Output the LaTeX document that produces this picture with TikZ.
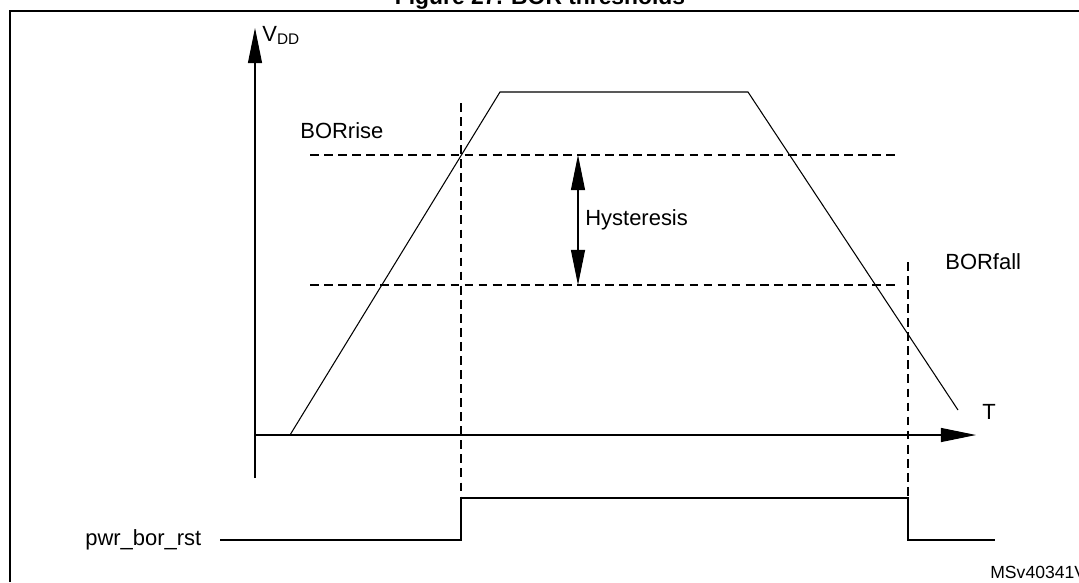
\documentclass[tikz,border=0pt]{standalone}
\usepackage{fontspec}
\setmainfont{Liberation Sans}
\usetikzlibrary{arrows.meta}
\tikzset{
  axis/.style={draw,semithick,-{Triangle[length=20pt,width=8pt]}},
  thr/.style={draw,semithick,dash pattern=on 5pt off 3pt},
  lbl/.style={font=\fontsize{12.5}{14}\selectfont,inner sep=0pt}
}
\begin{document}
\begin{tikzpicture}[x=0.02cm,y=-0.02cm]
\path[use as bounding box] (0,0) rectangle (1079,582);

% frame and title
\draw[thick] (10,582) -- (10,11) -- (1079,11);
\node[lbl,font=\bfseries\fontsize{13}{14}\selectfont] (title) at (540,-1) {Figure 27. BOR thresholds};

% axes
\coordinate (o) at (255,435);
\coordinate (ytop) at (255,28);
\coordinate (xend) at (976,435);
\coordinate (ybot) at (255,478);
\path[axis] (ybot) -- (ytop);
\path[axis] (o) -- (xend);
\node[lbl,anchor=north west] (vdd) at (262,26) {V\textsubscript{DD}};
\node[lbl,anchor=south west] (t) at (982,420) {T};

% supply curve
\draw[semithick] (290,435) -- (500,92) -- (748,92) -- (958,410);

% thresholds
\path[thr] (310,155) -- (900,155);
\path[thr] (310,285) -- (900,285);
\node[lbl,anchor=west] (rise) at (300,131) {BORrise};
\node[lbl,anchor=west] (fall) at (945,262) {BORfall};
\path[thr] (461,103) -- (461,540);
\path[thr] (908,262) -- (908,540);

% hysteresis
\coordinate (h1) at (578,155);
\coordinate (h2) at (578,285);
\draw[semithick,{Triangle[length=20pt,width=8pt]}-{Triangle[length=20pt,width=8pt]}] (h1) -- (h2);
\node[lbl,anchor=west] (hyst) at (585,220) {Hysteresis};

% reset signal
\draw[semithick] (220,540) -- (461,540) -- (461,498) -- (908,498) -- (908,540) -- (995,540);
\node[lbl,anchor=west] (rst) at (85,540) {pwr\_bor\_rst};
\node[lbl,anchor=west,font=\fontsize{10}{11}\selectfont] (ref) at (990,572) {MSv40341V2};
\end{tikzpicture}
\end{document}
